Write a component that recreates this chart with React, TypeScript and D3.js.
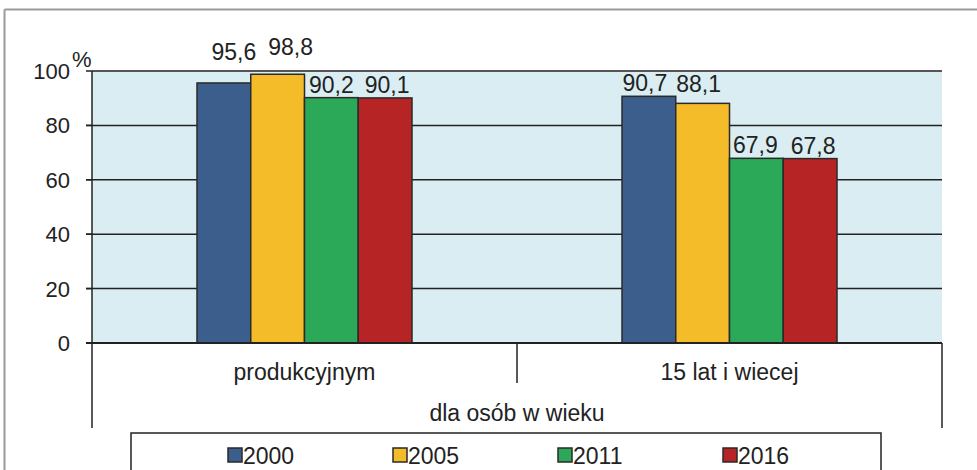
import React from "react";
import * as d3 from "d3";

const categories = ["produkcyjnym", "15 lat i wiecej"];
const seriesNames = ["2000", "2005", "2011", "2016"];
const values2000 = [95.6, 90.7];
const values2005 = [98.8, 88.1];
const values2011 = [90.2, 67.9];
const values2016 = [90.1, 67.8];
const yTicks = [0, 20, 40, 60, 80, 100];
const axisTitle = "dla osób w wieku";

// layout constants (label nudges: [series][category] -> [dx, dy])
const labelNudges = [
  [[10, -18], [-4, 0]],
  [[13, -14], [-4, -6]],
  [[0, 0], [-1, 0]],
  [[2, 0], [3, 0]],
];

const colors = ["#3b5e8c", "#f5bc2a", "#2ba858", "#b72426"];
const W = 977, H = 470;
const FONT = "Liberation Sans, Arial, sans-serif";

export default function App() {
  const series = [values2000, values2005, values2011, values2016];
  const left = 92, right = 942, top = 71, bottom = 343;
  const y = d3.scaleLinear().domain([0, 100]).range([bottom, top]);
  const x0 = d3.scaleBand().domain(categories).range([left, right]).paddingInner(0).paddingOuter(0);
  const groupW = 215;
  const x1 = d3.scaleBand().domain(seriesNames).range([0, groupW]).padding(0);
  const fmt = (v: number) => v.toFixed(1).replace(".", ",");

  return (
    <svg width={W} height={H} style={{ position: "absolute", left: 0, top: 0, background: "#fff" }} fontFamily={FONT}>
      {/* outer frame */}
      <line x1={4.5} y1={9.5} x2={W} y2={9.5} stroke="#999" strokeWidth={2} />
      <line x1={4.5} y1={9.5} x2={4.5} y2={H} stroke="#999" strokeWidth={2} />

      {/* plot background */}
      <rect x={left} y={top} width={right - left} height={bottom - top} fill="#daedf2" />

      {/* gridlines + ticks */}
      {yTicks.map((t) => (
        <g key={t}>
          {t > 0 && (
            <line x1={t === 100 ? left : 86} x2={right} y1={y(t)} y2={y(t)} stroke={t === 100 ? "#555" : "#222"} strokeWidth={t === 100 ? 2 : 1.5} />
          )}
          <line x1={86} x2={left} y1={y(t)} y2={y(t)} stroke="#222" strokeWidth={1.5} />
          <text x={70} y={y(t) + 8} textAnchor="end" fontSize={22} fill="#222">{t}</text>
        </g>
      ))}
      <text x={72} y={67} fontSize={22} fill="#222">%</text>

      {/* bars */}
      {categories.map((c, ci) => {
        const gx = (x0(c) as number) + (x0.bandwidth() - groupW) / 2;
        return (
          <g key={c}>
            {series.map((vals, si) => {
              const bx = gx + (x1(seriesNames[si]) as number);
              const v = vals[ci];
              return (
                <rect key={si} x={bx} y={y(v)} width={x1.bandwidth()} height={y(0) - y(v)} fill={colors[si]} stroke="#2a2a2a" strokeWidth={1.5} />
              );
            })}
            {series.map((vals, si) => {
              const bx = gx + (x1(seriesNames[si]) as number) + x1.bandwidth() / 2;
              const v = vals[ci];
              const [dx, dy] = labelNudges[si][ci];
              return (
                <text key={"l" + si} x={bx + dx} y={y(v) - 5 + dy} textAnchor="middle" fontSize={23} fill="#222">{fmt(v)}</text>
              );
            })}
          </g>
        );
      })}

      {/* axes lines */}
      <line x1={left} x2={left} y1={top} y2={bottom} stroke="#222" strokeWidth={1.5} />
      <line x1={86} x2={right} y1={bottom} y2={bottom} stroke="#222" strokeWidth={2} />
      <line x1={left} x2={left} y1={bottom} y2={428} stroke="#222" strokeWidth={1.5} />
      <line x1={right} x2={right} y1={bottom} y2={428} stroke="#222" strokeWidth={1.5} />
      <line x1={(x0(categories[1]) as number)} x2={(x0(categories[1]) as number)} y1={bottom} y2={383} stroke="#222" strokeWidth={1.5} />

      {categories.map((c) => (
        <text key={c} x={(x0(c) as number) + x0.bandwidth() / 2} y={380} textAnchor="middle" fontSize={23} fill="#222">{c}</text>
      ))}
      <text x={(left + right) / 2} y={421} textAnchor="middle" fontSize={23} fill="#222">{axisTitle}</text>

      {/* legend */}
      <rect x={131} y={433} width={750} height={50} fill="#fff" stroke="#222" strokeWidth={1.5} />
      {seriesNames.map((s, i) => (
        <g key={s} transform={`translate(${228 + i * 165},0)`}>
          <rect x={0} y={448} width={14} height={14} fill={colors[i]} stroke="#2a2a2a" strokeWidth={1.5} />
          <text x={15} y={464} fontSize={23} fill="#222">{s}</text>
        </g>
      ))}
    </svg>
  );
}
